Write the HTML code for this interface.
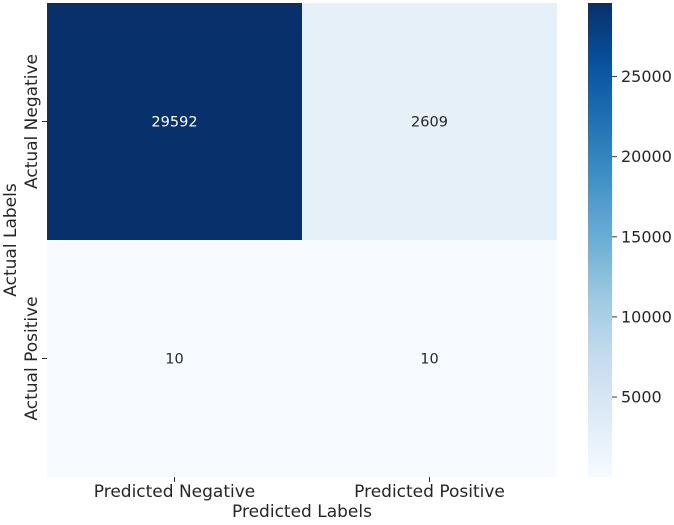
<!DOCTYPE html>
<html><head><meta charset="utf-8"><style>
body{margin:0;background:#fff;}
svg text{font-family:"DejaVu Sans","Liberation Sans",sans-serif;fill:#262626;}
</style></head><body>
<svg width="674" height="520">
<defs>
<linearGradient id="blues" x1="0" y1="1" x2="0" y2="0">
<stop offset="0" stop-color="#f7fbff"/><stop offset="0.125" stop-color="#deebf7"/>
<stop offset="0.25" stop-color="#c6dbef"/><stop offset="0.375" stop-color="#9ecae1"/>
<stop offset="0.5" stop-color="#6baed6"/><stop offset="0.625" stop-color="#4292c6"/>
<stop offset="0.75" stop-color="#2171b5"/><stop offset="0.875" stop-color="#08519c"/>
<stop offset="1" stop-color="#08306b"/></linearGradient>
</defs>
<g id="cells"></g>
<g id="axes"></g>
<rect x="588" y="3" width="24" height="474" fill="url(#blues)"/>
<g id="cbticks"></g>
<text x="302" y="517" text-anchor="middle" font-size="17">Predicted Labels</text>
<text transform="translate(16,240) rotate(-90)" text-anchor="middle" font-size="17">Actual Labels</text>
</svg>
<script>
const rowLabels=["Actual Negative","Actual Positive"];
const colLabels=["Predicted Negative","Predicted Positive"];
const row0=[29592,2609];
const row1=[10,10];
const cbTicks=[5000,10000,15000,20000,25000];
const values=[row0,row1];
const L=47,R=557,T=3,B=477;
const vmin=Math.min(...row0,...row1),vmax=Math.max(...row0,...row1);
const cw=(R-L)/colLabels.length,ch=(B-T)/rowLabels.length;
const stops=[[247,251,255],[222,235,247],[198,219,239],[158,202,225],[107,174,214],[66,146,198],[33,113,181],[8,81,156],[8,48,107]];
function color(v){let t=(v-vmin)/(vmax-vmin);t=Math.max(0,Math.min(1,t))*8;const i=Math.min(7,Math.floor(t)),f=t-i;const a=stops[i],b=stops[i+1];return `rgb(${a.map((c,k)=>Math.round(c+(b[k]-c)*f)).join(',')})`;}
function cy(v){return B-(v-vmin)/(vmax-vmin)*(B-T);}
const NS="http://www.w3.org/2000/svg";
const cells=document.getElementById('cells'),axes=document.getElementById('axes'),cb=document.getElementById('cbticks');
function mk(tag,attrs,parent,txt){const e=document.createElementNS(NS,tag);for(const k in attrs)e.setAttribute(k,attrs[k]);if(txt!==undefined)e.textContent=txt;parent.appendChild(e);return e;}
values.forEach((row,r)=>row.forEach((v,c)=>{
 const rc=mk('rect',{x:L+c*cw,y:T+r*ch,width:cw,height:ch,fill:color(v)},cells);
 
 
 const t=mk('text',{x:L+(c+.5)*cw,y:T+(r+.5)*ch+5,'text-anchor':'middle','font-size':'14.5'},cells,String(v));
 t.style.fill=(v-vmin)/(vmax-vmin)>0.5?'#fff':'#262626';
 
 
}));
colLabels.forEach((l,c)=>{const x=L+(c+.5)*cw;
 mk('line',{x1:x,x2:x,y1:B,y2:B+5,stroke:'#333'},axes);
 const t=mk('text',{x:x,y:B+20,'text-anchor':'middle','font-size':'17'},axes,l);
 
 });
rowLabels.forEach((l,r)=>{const y=T+(r+.5)*ch;
 mk('line',{x1:L,x2:L-5,y1:y,y2:y,stroke:'#333'},axes);
 const t=mk('text',{transform:`translate(${L-10},${y}) rotate(-90)`,'text-anchor':'middle','font-size':'17'},axes,l);
 
 });
cbTicks.forEach(v=>{const y=cy(v);
 mk('line',{x1:612,x2:617,y1:y,y2:y,stroke:'#333'},cb);
 const t=mk('text',{x:621,y:y+5.5,'font-size':'16'},cb,String(v));
 
 });
</script>
</body></html>
